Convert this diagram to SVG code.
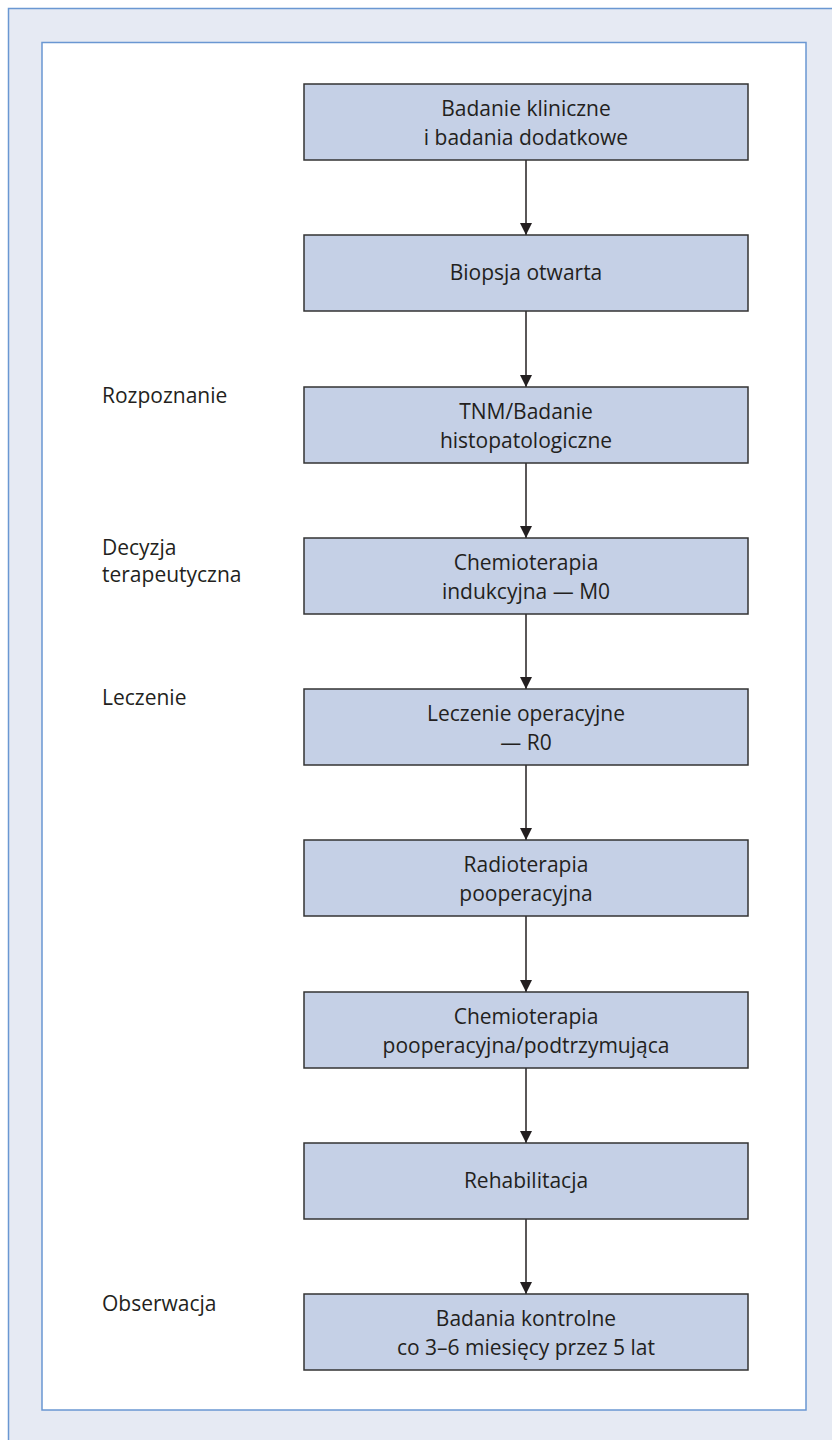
<svg xmlns="http://www.w3.org/2000/svg" width="832" height="1440" viewBox="0 0 832 1440">
<style>
.box{fill:#c5d0e6;stroke:#333;stroke-width:1.5}
.t{font-family:"Open Sans","Noto Sans",sans-serif;font-size:21px;fill:#231f20;text-anchor:middle}
.l{font-family:"Open Sans","Noto Sans",sans-serif;font-size:21px;fill:#231f20}
.c{stroke:#231f20;stroke-width:1.5;fill:none;marker-end:url(#ah)}
</style>
<defs>
<marker id="ah" viewBox="0 0 12 12" refX="12" refY="6" markerWidth="12" markerHeight="12" markerUnits="userSpaceOnUse" orient="auto">
<path d="M0,0 L12,6 L0,12 Z" fill="#231f20"/>
</marker>
</defs>
<rect x="0" y="0" width="832" height="1440" fill="#ffffff"/>
<rect x="8.5" y="8.5" width="840" height="1450" fill="#e6eaf3" stroke="#6a97d2" stroke-width="1.5"/>
<rect x="42" y="42.5" width="764" height="1367.5" fill="#ffffff" stroke="#6a97d2" stroke-width="1.5"/>
<g id="labels">
<text class="l" x="102" y="402.5">Rozpoznanie</text>
<text class="l" x="102" y="554.5">Decyzja</text>
<text class="l" x="102" y="582">terapeutyczna</text>
<text class="l" x="102" y="704.5">Leczenie</text>
<text class="l" x="102" y="1310.5">Obserwacja</text>
</g>
<g id="connectors">
<line class="c" x1="526" y1="160" x2="526" y2="235"/>
<line class="c" x1="526" y1="311" x2="526" y2="387"/>
<line class="c" x1="526" y1="463" x2="526" y2="538"/>
<line class="c" x1="526" y1="614" x2="526" y2="689"/>
<line class="c" x1="526" y1="765" x2="526" y2="840"/>
<line class="c" x1="526" y1="916" x2="526" y2="992"/>
<line class="c" x1="526" y1="1068" x2="526" y2="1143"/>
<line class="c" x1="526" y1="1219" x2="526" y2="1294"/>
</g>
<g id="n1"><rect class="box" x="304" y="84" width="444" height="76"/><text class="t" x="526" y="116">Badanie kliniczne</text><text class="t" x="526" y="144.5">i badania dodatkowe</text></g>
<g id="n2"><rect class="box" x="304" y="235" width="444" height="76"/><text class="t" x="526" y="279.5">Biopsja otwarta</text></g>
<g id="n3"><rect class="box" x="304" y="387" width="444" height="76"/><text class="t" x="526" y="419">TNM/Badanie</text><text class="t" x="526" y="447.5">histopatologiczne</text></g>
<g id="n4"><rect class="box" x="304" y="538" width="444" height="76"/><text class="t" x="526" y="570">Chemioterapia</text><text class="t" x="526" y="598.5">indukcyjna — M0</text></g>
<g id="n5"><rect class="box" x="304" y="689" width="444" height="76"/><text class="t" x="526" y="721">Leczenie operacyjne</text><text class="t" x="526" y="749.5">— R0</text></g>
<g id="n6"><rect class="box" x="304" y="840" width="444" height="76"/><text class="t" x="526" y="872">Radioterapia</text><text class="t" x="526" y="900.5">pooperacyjna</text></g>
<g id="n7"><rect class="box" x="304" y="992" width="444" height="76"/><text class="t" x="526" y="1024">Chemioterapia</text><text class="t" x="526" y="1052.5">pooperacyjna/podtrzymująca</text></g>
<g id="n8"><rect class="box" x="304" y="1143" width="444" height="76"/><text class="t" x="526" y="1187.5">Rehabilitacja</text></g>
<g id="n9"><rect class="box" x="304" y="1294" width="444" height="76"/><text class="t" x="526" y="1326">Badania kontrolne</text><text class="t" x="526" y="1354.5">co 3–6 miesięcy przez 5 lat</text></g>
</svg>
